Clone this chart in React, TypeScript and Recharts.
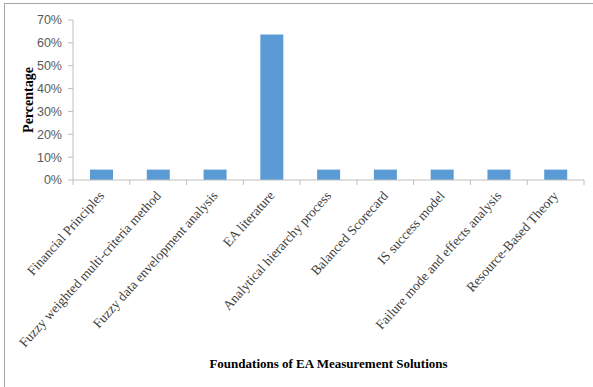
import React from "react";
import { BarChart, Bar, XAxis, YAxis, Label } from "recharts";

const categories = [
  "Financial Principles",
  "Fuzzy weighted multi-criteria method",
  "Fuzzy data envelopment analysis",
  "EA literature",
  "Analytical hierarchy process",
  "Balanced Scorecard",
  "IS success model",
  "Failure mode and effects analysis",
  "Resource-Based Theory",
];
const percentages = [4.55, 4.55, 4.55, 63.64, 4.55, 4.55, 4.55, 4.55, 4.55];
const yTicks = [0, 10, 20, 30, 40, 50, 60, 70];

const data = categories.map((name, i) => ({ name, value: percentages[i] }));

const W = 593;
const H = 387;
const MARGIN = { top: 20, right: 9, left: 0, bottom: 0 };
const Y_AXIS_W = 73;
const X_AXIS_H = 207;
const TICK_SIZE = 5;
const TICK_MARGIN = 8;
const AXIS_COLOR = "#bfbfbf";
const BAND = (W - MARGIN.left - MARGIN.right - Y_AXIS_W) / categories.length;
const SERIF = "'Liberation Serif', 'Times New Roman', serif";

// Excel-like category tick: marks sit between bands, label slanted
function CategoryTick(props: any) {
  const { x, y, payload, index } = props;
  const axisY = y - TICK_SIZE - TICK_MARGIN;
  const right = x + BAND / 2;
  const left = x - BAND / 2;
  return (
    <g>
      {index === 0 && (
        <line x1={left} y1={axisY} x2={left} y2={axisY + TICK_SIZE} stroke={AXIS_COLOR} />
      )}
      <line x1={right} y1={axisY} x2={right} y2={axisY + TICK_SIZE} stroke={AXIS_COLOR} />
      <text
        x={x}
        y={y}
        dy="0.35em"
        textAnchor="end"
        transform={`rotate(-48, ${x}, ${y})`}
        fontFamily={SERIF}
        fontSize={13.5}
        fill="#404040"
      >
        {payload.value}
      </text>
    </g>
  );
}

export default function App() {
  return (
    <div style={{ position: "absolute", left: 0, top: 0, width: W, height: H, background: "#fff" }}>
      <div
        style={{
          position: "absolute",
          left: 4,
          top: 3,
          right: 0,
          bottom: 0,
          borderTop: "1px solid #a6a6a6",
          borderLeft: "1px solid #a6a6a6",
        }}
      />
      <BarChart width={W} height={H} data={data} margin={MARGIN} style={{ position: "absolute", left: 0, top: 0 }}>
        <XAxis
          dataKey="name"
          interval={0}
          height={X_AXIS_H}
          tickLine={false}
          tickSize={TICK_SIZE}
          tickMargin={TICK_MARGIN}
          stroke={AXIS_COLOR}
          tick={<CategoryTick />}
        >
          <Label
            content={(p: any) => {
              const vb = p.viewBox;
              return (
                <text
                  x={vb.x + vb.width / 2}
                  y={363}
                  dominantBaseline="central"
                  textAnchor="middle"
                  fontFamily={SERIF}
                  fontWeight="bold"
                  fontSize={13}
                  fill="#000"
                >
                  Foundations of EA Measurement Solutions
                </text>
              );
            }}
          />
        </XAxis>
        <YAxis
          width={Y_AXIS_W}
          domain={[0, 70]}
          ticks={yTicks}
          interval={0}
          tickFormatter={(v: number) => `${v}%`}
          tickSize={TICK_SIZE}
          tickMargin={6}
          stroke={AXIS_COLOR}
          tick={{ fill: "#595959", fontSize: 12.5, fontFamily: "'Liberation Sans', Arial, sans-serif" }}
        >
          <Label
            content={(p: any) => {
              const vb = p.viewBox;
              const cx = vb.x + 28;
              const cy = vb.y + vb.height / 2;
              return (
                <text
                  x={cx}
                  y={cy}
                  transform={`rotate(-90, ${cx}, ${cy})`}
                  dominantBaseline="central"
                  textAnchor="middle"
                  fontFamily={SERIF}
                  fontWeight="bold"
                  fontSize={14}
                  fill="#000"
                >
                  Percentage
                </text>
              );
            }}
          />
        </YAxis>
        <Bar dataKey="value" fill="#5b9bd5" barSize={23} isAnimationActive={false} />
      </BarChart>
    </div>
  );
}
